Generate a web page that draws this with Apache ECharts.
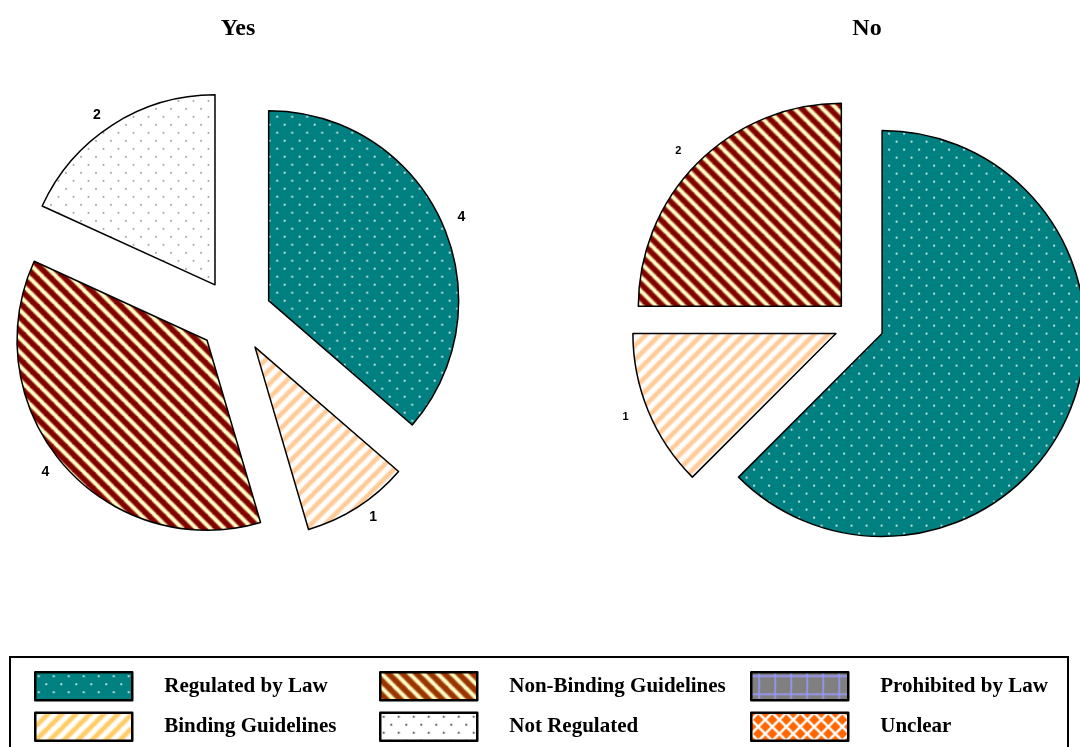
<!DOCTYPE html>
<html>
<head>
<meta charset="utf-8">
<script src="https://cdn.jsdelivr.net/npm/echarts@6/dist/echarts.min.js"></script>
<style>
  html, body { margin: 0; padding: 0; background: #fff; }
  #chart { width: 1080px; height: 747px; }
</style>
</head>
<body>
<div id="chart"></div>
<script>
// Categories shared by both pies and the legend
const categories = ['Regulated by Law', 'Binding Guidelines', 'Non-Binding Guidelines', 'Not Regulated', 'Prohibited by Law', 'Unclear'];
// Counts per category for each panel
const yesValues = [4, 1, 4, 2, 0, 0];
const noValues = [5, 1, 2, 0, 0, 0];
const panelTitles = ['Yes', 'No'];
// Legend columns (read top to bottom)
const legendColumns = [
  ['Regulated by Law', 'Binding Guidelines'],
  ['Non-Binding Guidelines', 'Not Regulated'],
  ['Prohibited by Law', 'Unclear']
];

// ---- fill patterns ----
function tile(w, h, paint) {
  const c = document.createElement('canvas');
  c.width = w; c.height = h;
  paint(c.getContext('2d'), w, h);
  return { image: c, repeat: 'repeat' };
}
function dots(bg, dot, r) {
  return tile(15, 16, (g, w, h) => {
    g.fillStyle = bg; g.fillRect(0, 0, w, h);
    g.fillStyle = dot;
    [[3.5, 4], [11, 12]].forEach(([x, y]) => {
      g.beginPath(); g.arc(x, y, r, 0, Math.PI * 2); g.fill();
    });
  });
}
// dir > 0 : "/" stripes, dir < 0 : "\" stripes
function stripes(bg, fg, soft, width, dir) {
  const s = 14;
  return tile(s, s, (g) => {
    g.fillStyle = bg; g.fillRect(0, 0, s, s);
    const pass = (color, lw) => {
      g.strokeStyle = color; g.lineWidth = lw;
      const cs = dir > 0 ? [0, s, 2 * s] : [-s, 0, s];
      cs.forEach(c => {
        g.beginPath();
        if (dir > 0) { g.moveTo(c + 1, -1); g.lineTo(c - s - 1, s + 1); }
        else { g.moveTo(c - 1, -1); g.lineTo(c + s + 1, s + 1); }
        g.stroke();
      });
    };
    if (soft) pass(soft, width + 2.2);
    pass(fg, width);
  });
}
function grid(bg, line) {
  return tile(16, 18, (g, w, h) => {
    g.fillStyle = bg; g.fillRect(0, 0, w, h);
    g.strokeStyle = line; g.lineWidth = 1.6;
    g.beginPath(); g.moveTo(8, 0); g.lineTo(8, h); g.stroke();
    g.beginPath(); g.moveTo(0, 4); g.lineTo(w, 4); g.stroke();
  });
}
function diamonds(bg, fg) {
  return tile(14, 14, (g, w, h) => {
    g.fillStyle = bg; g.fillRect(0, 0, w, h);
    g.fillStyle = fg;
    const d = (x, y, r) => {
      g.beginPath(); g.moveTo(x, y - r); g.lineTo(x + r, y); g.lineTo(x, y + r); g.lineTo(x - r, y); g.closePath(); g.fill();
    };
    d(7, 7, 5.2);
    [[0, 0], [14, 0], [0, 14], [14, 14]].forEach(([x, y]) => d(x, y, 5.2));
  });
}

const piePatterns = {
  'Regulated by Law': dots('#008080', '#e8f4f4', 1.1),
  'Binding Guidelines': stripes('#ffffff', '#ffcc99', 'rgba(255,214,170,0.45)', 4, 1),
  'Non-Binding Guidelines': stripes('#800000', '#ffffcc', 'rgba(240,200,120,0.55)', 3.2, -1),
  'Not Regulated': dots('#ffffff', '#a0a0a0', 1.0),
  'Prohibited by Law': grid('#808080', '#9999ff'),
  'Unclear': diamonds('#ffffff', '#ff6600')
};
const legendPatterns = {
  'Binding Guidelines': stripes('#ffffff', '#ffcc66', 'rgba(255,214,130,0.45)', 4, 1),
  'Non-Binding Guidelines': stripes('#993300', '#ffffcc', 'rgba(240,200,120,0.55)', 3.2, -1),
  'Not Regulated': dots('#ffffff', '#333333', 1.0)
};

function pieSeries(name, values, center, radius, offset, fontSize, labelGap) {
  return {
    type: 'pie',
    name,
    center,
    radius,
    startAngle: 90,
    clockwise: true,
    selectedMode: 'multiple',
    selectedOffset: offset,
    avoidLabelOverlap: false,
    animation: false,
    emphasis: { disabled: true },
    itemStyle: { borderColor: '#000', borderWidth: 1.5 },
    label: {
      show: true,
      position: 'outside',
      formatter: '{c}',
      color: '#000',
      fontFamily: '"Liberation Sans", Arial, sans-serif',
      fontWeight: 'bold',
      fontSize
    },
    labelLine: { show: false, length: labelGap, length2: 0 },
    data: categories.map((cat, i) => {
      const v = values[i];
      const item = { name: cat, value: v, selected: v > 0, itemStyle: { color: piePatterns[cat] } };
      if (!v) {
        item.itemStyle.borderWidth = 0;
        item.label = { show: false };
        item.labelLine = { show: false };
      }
      return item;
    })
  };
}

const legendLeft = [34, 379, 750];
const serifFont = '"Liberation Serif", "Times New Roman", serif';

const option = {
  backgroundColor: '#ffffff',
  animation: false,
  graphic: [
    { type: 'rect', silent: true, z: 0,
      shape: { x: 10, y: 657, width: 1058, height: 100 },
      style: { fill: 'none', stroke: '#000', lineWidth: 2 } },
    { type: 'text', x: 238, y: 29, silent: true,
      style: { text: panelTitles[0], align: 'center', verticalAlign: 'middle',
               font: 'bold 24px ' + serifFont, fill: '#000' } },
    { type: 'text', x: 867, y: 29, silent: true,
      style: { text: panelTitles[1], align: 'center', verticalAlign: 'middle',
               font: 'bold 24px ' + serifFont, fill: '#000' } }
  ],
  legend: legendColumns.map((names, k) => ({
    orient: 'vertical',
    left: legendLeft[k],
    top: 671,
    padding: 0,
    itemGap: 10,
    itemWidth: 97,
    itemHeight: 28,
    icon: 'rect',
    selectedMode: false,
    itemStyle: { borderColor: '#000', borderWidth: 2.5 },
    textStyle: {
      fontFamily: serifFont, fontWeight: 'bold', fontSize: 21, color: '#000',
      padding: [0, 0, 0, 27]
    },
    data: names.map(n => legendPatterns[n]
      ? { name: n, itemStyle: { color: legendPatterns[n] } }
      : { name: n })
  })),
  series: [
    pieSeries(panelTitles[0], yesValues, [235, 316], 190, 37, 14, 12),
    pieSeries(panelTitles[1], noValues, [859, 324], 203, 25, 11, 16)
  ]
};

const chart = echarts.init(document.getElementById('chart'), null, { renderer: 'canvas', width: 1080, height: 747 });
chart.setOption(option);
</script>
</body>
</html>
